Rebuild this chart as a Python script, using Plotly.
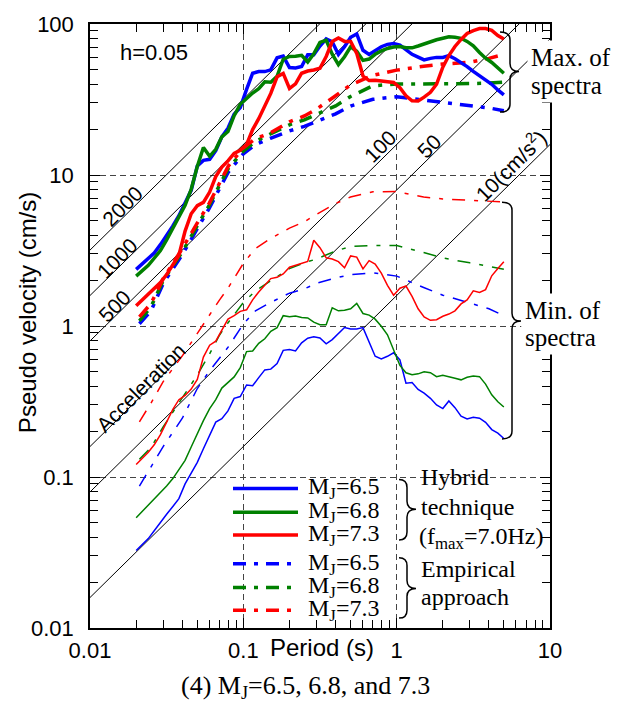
import plotly.graph_objects as go

# ---------------------------------------------------------------- data
# Periods (s) of the hybrid-technique spectra
period_hyb = [0.02, 0.0219, 0.024, 0.0263, 0.0288, 0.0316, 0.0347, 0.038, 0.0417, 0.0457,
              0.0501, 0.0549, 0.0603, 0.0661, 0.0724, 0.0794, 0.0871, 0.0955, 0.105, 0.115,
              0.126, 0.138, 0.151, 0.166, 0.182, 0.2, 0.219, 0.24, 0.263, 0.288,
              0.316, 0.347, 0.38, 0.417, 0.457, 0.501, 0.549, 0.603, 0.661, 0.724,
              0.794, 0.871, 0.955, 1.05, 1.15, 1.26, 1.38, 1.51, 1.66, 1.82,
              2.0, 2.19, 2.4, 2.63, 2.88, 3.16, 3.47, 3.8, 4.17, 4.57, 5.0]

# Hybrid technique, maximum of spectra (cm/s)
hyb_max_65 = [2.37, 2.57, 2.80, 3.05, 3.46, 3.96, 4.60, 5.38, 6.47, 7.91,
              11.5, 12.5, 12.7, 14.5, 17.9, 20.4, 25.3, 28.0, 36.9, 47.2,
              48.4, 48.4, 49.7, 59.7, 61.3, 51.5, 51.2, 52.3, 62.5, 62.5,
              71.5, 79.6, 76.2, 62.8, 70.7, 81.7, 86.0, 67.0, 62.8, 67.1,
              70.7, 73.3, 74.3, 72.6, 67.9, 63.0, 60.3, 57.8, 59.2, 60.1,
              60.1, 61.7, 58.8, 55.8, 52.2, 48.5, 45.5, 42.6, 39.9, 36.6,
              33.9]
hyb_max_68 = [2.14, 2.32, 2.52, 2.82, 3.16, 3.71, 4.47, 5.23, 6.30, 8.04,
              11.4, 15.2, 13.3, 14.8, 17.9, 19.4, 24.7, 29.4, 32.3, 34.9,
              37.3, 41.4, 41.1, 45.0, 58.4, 61.0, 61.1, 62.0, 56.0, 63.5,
              75.6, 78.1, 63.1, 53.8, 60.7, 70.6, 66.0, 57.4, 58.6, 63.0,
              66.4, 68.9, 70.4, 71.0, 69.7, 69.5, 71.5, 74.0, 76.5, 78.6,
              80.4, 82.2, 81.6, 80.4, 76.7, 71.8, 64.8, 59.4, 55.6, 51.1,
              47.2]
hyb_max_73 = [1.36, 1.49, 1.63, 1.77, 1.94, 2.19, 2.52, 2.94, 4.25, 5.54,
              6.26, 6.59, 7.71, 9.76, 11.3, 12.4, 13.9, 14.6, 15.9, 20.0,
              23.6, 29.0, 34.7, 44.7, 47.1, 37.4, 40.1, 47.2, 48.8, 49.6,
              50.9, 60.9, 76.5, 80.7, 76.7, 76.5, 63.9, 45.2, 42.2, 42.4,
              42.1, 41.8, 41.0, 37.9, 33.5, 31.0, 30.9, 32.8, 35.3, 39.9,
              51.8, 61.8, 71.0, 79.0, 86.5, 90.4, 93.2, 93.2, 90.7, 83.9,
              79.5]

# Hybrid technique, minimum of spectra (cm/s)
hyb_min_65 = [0.0326, 0.0357, 0.0391, 0.0442, 0.0502, 0.0566, 0.0638, 0.0719, 0.090, 0.107,
              0.125, 0.154, 0.191, 0.231, 0.243, 0.274, 0.332, 0.341, 0.407, 0.402,
              0.455, 0.512, 0.518, 0.564, 0.690, 0.699, 0.683, 0.774, 0.830, 0.848,
              0.834, 0.762, 0.813, 0.889, 0.978, 0.957, 0.956, 0.976, 0.794, 0.631,
              0.606, 0.630, 0.665, 0.596, 0.418, 0.422, 0.380, 0.359, 0.332, 0.300,
              0.284, 0.319, 0.288, 0.253, 0.242, 0.249, 0.245, 0.230, 0.206, 0.195,
              0.180]
hyb_min_68 = [0.0537, 0.0591, 0.0651, 0.0716, 0.0785, 0.0873, 0.0976, 0.111, 0.129, 0.158,
              0.196, 0.236, 0.284, 0.325, 0.388, 0.425, 0.460, 0.530, 0.677, 0.683,
              0.767, 0.823, 0.922, 0.975, 1.17, 1.15, 1.165, 1.14, 1.13, 1.06,
              1.02, 1.02, 1.32, 1.26, 1.27, 1.30, 1.41, 1.21, 1.18, 1.11,
              0.996, 0.874, 0.685, 0.548, 0.490, 0.476, 0.482, 0.498, 0.491, 0.462,
              0.472, 0.464, 0.451, 0.440, 0.458, 0.467, 0.462, 0.412, 0.350, 0.315,
              0.291]
hyb_min_73 = [0.121, 0.133, 0.146, 0.164, 0.191, 0.231, 0.280, 0.325, 0.347, 0.382,
              0.443, 0.622, 0.746, 0.793, 0.946, 1.11, 1.17, 1.25, 1.28, 1.49,
              1.68, 1.85, 2.06, 2.10, 2.21, 2.45, 2.52, 2.60, 2.68, 3.70,
              3.30, 2.83, 2.78, 2.67, 2.43, 2.91, 2.86, 2.39, 2.71, 2.57,
              2.24, 1.86, 1.60, 1.78, 1.84, 1.57, 1.30, 1.15, 1.09, 1.10,
              1.16, 1.20, 1.26, 1.40, 1.49, 1.71, 1.67, 1.74, 2.15, 2.40,
              2.66]

# Periods (s) of the empirical-approach spectra
period_emp = [0.021, 0.025, 0.03, 0.04, 0.05, 0.06, 0.07, 0.08, 0.1, 0.12, 0.15, 0.2,
              0.25, 0.3, 0.4, 0.5, 0.7, 1.0, 1.5, 2.0, 3.0, 4.0, 5.0]

# Empirical approach, maximum of spectra (cm/s)
emp_max_65 = [1.035, 1.26, 1.91, 2.97, 4.39, 6.04, 8.14, 10.5, 13.8, 15.9, 17.5, 19.6,
              21.0, 22.5, 25.4, 28.6, 31.7, 33.0, 31.4, 30.0, 28.9, 27.8, 26.6]
emp_max_68 = [1.08, 1.34, 2.00, 3.10, 4.60, 6.32, 8.58, 11.1, 14.4, 16.7, 18.7, 21.5,
              23.2, 25.2, 28.7, 33.1, 39.0, 40.0, 40.0, 40.0, 40.3, 40.6, 41.2]
emp_max_73 = [1.15, 1.41, 2.06, 3.26, 4.80, 6.51, 8.85, 11.5, 15.1, 17.4, 19.0, 22.5,
              24.6, 27.3, 33.5, 39.5, 45.7, 49.5, 52.5, 54.3, 55.8, 59.2, 62.9]

# Empirical approach, minimum of spectra (cm/s)
emp_min_65 = [0.087, 0.118, 0.159, 0.245, 0.384, 0.502, 0.610, 0.730, 1.03, 1.26, 1.43, 1.65,
              1.76, 1.92, 2.08, 2.19, 2.25, 2.14, 1.80, 1.60, 1.42, 1.30, 1.17]
emp_min_68 = [0.131, 0.157, 0.215, 0.336, 0.472, 0.648, 0.872, 1.06, 1.43, 1.71, 1.99, 2.40,
              2.62, 2.78, 3.14, 3.36, 3.41, 3.41, 3.07, 2.82, 2.62, 2.47, 2.38]
emp_min_73 = [0.232, 0.309, 0.428, 0.634, 0.890, 1.18, 1.49, 1.80, 2.60, 3.26, 3.79, 4.45,
              4.90, 5.49, 6.48, 7.15, 7.75, 7.77, 7.15, 6.94, 6.79, 6.68, 6.63]

# Constant pseudo-acceleration guide lines (cm/s^2)
accel_levels = [2000, 1000, 500, 100, 50, 10]
accel_labels = ["2000", "1000", "500", "100", "50", "10(cm/s<sup>2</sup>)"]

magnitudes = ["6.5", "6.8", "7.3"]
colors = ["#0000ff", "#008000", "#ff0000"]

# axis ticks
x_ticks = [0.01, 0.1, 1, 10]
x_ticktext = ["0.01", "0.1", "1", "10"]
y_ticks = [0.01, 0.1, 1, 10, 100]
y_ticktext = ["0.01", "0.1", "1", "10", "100"]

# ---------------------------------------------------------------- layout geometry
W, H = 619, 713
ML, MR, MT, MB = 90, 69, 18, 85
PW, PH = W - ML - MR, H - MT - MB

SANS = "Liberation Sans, Arial, Helvetica, sans-serif"
SERIF = "Liberation Serif, Times New Roman, serif"
DASHDOT_THICK = "13px,8px,4px,8px"
DASHDOT_THIN = "13px,9px,4px,9px"


def px(x, y):
    """Figure pixel position -> paper coordinates."""
    return (x - ML) / PW, (MT + PH - y) / PH


def brace(x0, xv, xt, y0, ym, y1, ry=8):
    """SVG path (paper units) of a right-pointing curly brace."""
    pts = [("M", [(x0, y0)]),
           ("Q", [(xv, y0), (xv, y0 + ry)]),
           ("L", [(xv, ym - ry)]),
           ("Q", [(xv, ym), (xt, ym)]),
           ("Q", [(xv, ym), (xv, ym + ry)]),
           ("L", [(xv, y1 - ry)]),
           ("Q", [(xv, y1), (x0, y1)])]
    out = []
    for cmd, pp in pts:
        coords = " ".join("%.5f,%.5f" % px(a, b) for a, b in pp)
        out.append(cmd + coords)
    return " ".join(out)


fig = go.Figure()

# guide lines of constant pseudo acceleration: Sv = A * T / (2 pi)
for a in accel_levels:
    t_ends = [0.01, 10.0]
    fig.add_trace(go.Scatter(x=t_ends, y=[a * t / (2 * 3.141592653589793) for t in t_ends],
                             mode="lines", line=dict(color="black", width=1),
                             hoverinfo="skip", showlegend=False))

emp_max = [emp_max_65, emp_max_68, emp_max_73]
emp_min = [emp_min_65, emp_min_68, emp_min_73]
hyb_max = [hyb_max_65, hyb_max_68, hyb_max_73]
hyb_min = [hyb_min_65, hyb_min_68, hyb_min_73]

for i, m in enumerate(magnitudes):
    fig.add_trace(go.Scatter(x=period_emp, y=emp_min[i], mode="lines",
                             line=dict(color=colors[i], width=1.5, dash=DASHDOT_THIN),
                             name="Empirical min M_J=" + m, showlegend=False))
    fig.add_trace(go.Scatter(x=period_emp, y=emp_max[i], mode="lines",
                             line=dict(color=colors[i], width=3.5, dash=DASHDOT_THICK),
                             name="Empirical max M_J=" + m, showlegend=False))
for i, m in enumerate(magnitudes):
    fig.add_trace(go.Scatter(x=period_hyb, y=hyb_min[i], mode="lines",
                             line=dict(color=colors[i], width=1.5),
                             name="Hybrid min M_J=" + m, showlegend=False))
for i, m in enumerate(magnitudes):
    fig.add_trace(go.Scatter(x=period_hyb, y=hyb_max[i], mode="lines",
                             line=dict(color=colors[i], width=3.5),
                             name="Hybrid max M_J=" + m, showlegend=False))

axis_common = dict(
    type="log", showline=True, linecolor="black", linewidth=1.5, mirror="ticks",
    ticks="inside", ticklen=10, tickwidth=1.2, tickcolor="black",
    showgrid=True, gridcolor="#444444", gridwidth=1, griddash="6px,4px",
    zeroline=False, tickfont=dict(family=SANS, size=22, color="black"),
)
x_minor = [k * d for d in (0.01, 0.1, 1) for k in range(2, 10)]
y_minor = [k * d for d in (0.01, 0.1, 1, 10) for k in range(2, 10)]

fig.update_xaxes(range=[-2, 1], tickvals=x_ticks, ticktext=x_ticktext,
                 ticklabelstandoff=2,
                 minor=dict(tickvals=x_minor, ticks="inside", ticklen=8, tickwidth=1.2,
                            tickcolor="black", showgrid=False),
                 **axis_common)
fig.update_yaxes(range=[-2, 2], tickvals=y_ticks, ticktext=y_ticktext,
                 ticklabelstandoff=10,
                 minor=dict(tickvals=y_minor, ticks="inside", ticklen=8, tickwidth=1.2,
                            tickcolor="black", showgrid=False),
                 **axis_common)

ann = []


def text(x, y, s, size=22, family=SANS, xanchor="center", angle=0, bg=None, pad=1):
    xp, yp = px(x, y)
    d = dict(x=xp, y=yp, xref="paper", yref="paper", text=s, showarrow=False,
             xanchor=xanchor, yanchor="middle", textangle=angle,
             font=dict(family=family, size=size, color="black"), borderpad=pad)
    if bg:
        d["bgcolor"] = bg
    ann.append(d)


# labels of the acceleration guide lines
text(122, 202, accel_labels[0], size=21, angle=-45)
text(117, 255, accel_labels[1], size=21, angle=-45)
text(114, 303, accel_labels[2], size=21, angle=-45)
text(141, 385, "Acceleration", size=21, angle=-45)
text(380, 142, accel_labels[3], size=21, angle=-45)
text(429, 142, accel_labels[4], size=21, angle=-45)
text(510, 160, accel_labels[5], size=21, angle=-45)

text(118, 47, "h=0.05", size=22, xanchor="left")

# group labels at the right
text(527, 52, "Max. of", size=25, family=SERIF, xanchor="left", bg="white", pad=3)
text(527, 80, "spectra", size=25, family=SERIF, xanchor="left", bg="white", pad=3)
text(521, 307, "Min. of", size=25, family=SERIF, xanchor="left", bg="white", pad=3)
text(521, 335, "spectra", size=25, family=SERIF, xanchor="left", bg="white", pad=3)

# axis titles and caption
text(27, 310, "Pseudo velocity (cm/s)", size=24, angle=-90)
text(268, 648, "Period (s)", size=24, xanchor="left")
text(305, 688, "(4) M<sub>J</sub>=6.5, 6.8, and 7.3", size=26, family=SERIF)

# legend
shapes = []
legend_rows = [487, 511, 534, 563, 587, 610]
for j, yrow in enumerate(legend_rows):
    i = j % 3
    xa, ya = px(233, yrow)
    xb, _ = px(298, yrow)
    dash = "solid" if j < 3 else DASHDOT_THICK
    shapes.append(dict(type="line", xref="paper", yref="paper", x0=xa, x1=xb, y0=ya, y1=ya,
                       line=dict(color=colors[i], width=3.5, dash=dash)))
    text(306, yrow, "M<sub>J</sub>=" + magnitudes[i], size=24, family=SERIF, xanchor="left")

text(419, 475, "Hybrid", size=24, family=SERIF, xanchor="left")
text(419, 506, "technique", size=24, family=SERIF, xanchor="left")
text(417, 537, "(f<sub>max</sub>=7.0Hz)", size=24, family=SERIF, xanchor="left")
text(419, 568, "Empirical", size=24, family=SERIF, xanchor="left")
text(419, 597, "approach", size=24, family=SERIF, xanchor="left")

# curly braces
for b in [(500, 510, 519, 26, 66, 107), (502, 512, 521, 198, 318, 437),
          (399, 407, 416, 478, 508, 539), (399, 407, 416, 557, 588, 618)]:
    shapes.append(dict(type="path", xref="paper", yref="paper", path=brace(*b),
                       line=dict(color="black", width=1.5)))

fig.update_layout(width=W, height=H, margin=dict(l=ML, r=MR, t=MT, b=MB),
                  plot_bgcolor="white", paper_bgcolor="white", showlegend=False,
                  annotations=ann, shapes=shapes)

fig.write_html("out.html")
